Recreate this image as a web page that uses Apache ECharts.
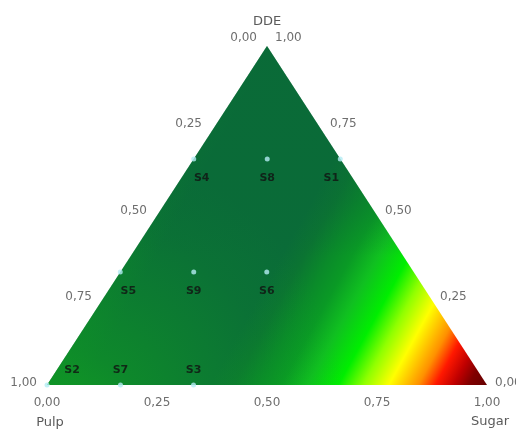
<!DOCTYPE html>
<html><head><meta charset="utf-8">
<script src="https://cdn.jsdelivr.net/npm/echarts@6/dist/echarts.min.js"></script>
<style>html,body{margin:0;padding:0;background:#fff}#c{width:516px;height:430px}</style>
</head><body><div id="c"></div>
<script>
// ---- data ----
const axisNames = ['Pulp', 'Sugar', 'DDE'];
const tickValues = [0, 0.25, 0.5, 0.75, 1];
const tickLabels = ['0,00', '0,25', '0,50', '0,75', '1,00'];
const pointNames = ['S4', 'S8', 'S1', 'S5', 'S9', 'S6', 'S2', 'S7', 'S3'];
const pulp  = [0.333, 0.167, 0,     0.667, 0.5,   0.333, 1, 0.833, 0.667];
const sugar = [0,     0.167, 0.333, 0,     0.167, 0.333, 0, 0.167, 0.333];
const dde   = [0.667, 0.667, 0.667, 0.333, 0.333, 0.333, 0, 0,     0];
const corners = [[1, 0, 0], [0, 1, 0], [0, 0, 1]]; // Pulp, Sugar, DDE vertices (Pulp, Sugar, DDE)

// ternary -> cartesian
function toXY(p, s, d) { return [s + d / 2, d]; }

const font = '"DejaVu Sans", sans-serif';

// response surface colour stops (style)
const baseStops = [
  [0, '#0a7434'], [0.086, '#0a6c38'], [0.371, '#0a6c38'], [0.423, '#0b7432'],
  [0.481, '#0a8a2a'], [0.532, '#0a9a25'], [0.592, '#10c020'], [0.662, '#00ee00'],
  [0.719, '#90ff00'], [0.777, '#ffff00'], [0.844, '#ff9000'], [0.883, '#ff1800'],
  [0.924, '#c00000'], [0.958, '#800000'], [1, '#650000']
].map(s => ({ offset: s[0], color: s[1] }));
const cornerGlow = [
  { offset: 0, color: 'rgba(18,165,30,0.85)' },
  { offset: 0.26, color: 'rgba(18,165,30,0.5)' },
  { offset: 0.52, color: 'rgba(18,165,30,0.28)' },
  { offset: 0.75, color: 'rgba(18,165,30,0.1)' },
  { offset: 1, color: 'rgba(18,165,30,0)' }
];
const topShade = [
  { offset: 0, color: 'rgba(10,105,55,0.45)' },
  { offset: 0.45, color: 'rgba(10,105,55,0.3)' },
  { offset: 0.62, color: 'rgba(10,105,55,0)' }
];

const chart = echarts.init(document.getElementById('c'), null, { renderer: 'canvas' });

// tick data: [x, y, axisIndex, tickIndex, ddeValue]
const tickData = [];
tickValues.forEach((v, i) => {
  const pPulp = toXY(v, 0, 1 - v);       // left edge
  tickData.push([pPulp[0], pPulp[1], 0, i, 1 - v]);
  const pSug = toXY(1 - v, v, 0);        // bottom edge
  tickData.push([pSug[0], pSug[1], 1, i, 0]);
  const pDde = toXY(0, 1 - v, v);        // right edge
  tickData.push([pDde[0], pDde[1], 2, i, v]);
});

const pointData = pointNames.map((n, i) => {
  let dx = 0, dy = 19;
  if (dde[i] === 0) dy = -15;
  if (sugar[i] === 0) dx = dde[i] === 0 ? 25 : 8;
  if (pulp[i] === 0) dx = -9;
  return { name: n, value: toXY(pulp[i], sugar[i], dde[i]), label: { offset: [dx, dy] } };
});

chart.setOption({
  animation: false,
  grid: { left: 47, right: 29, top: 46, bottom: 45 },
  xAxis: { type: 'value', min: 0, max: 1, show: false },
  yAxis: { type: 'value', min: 0, max: 1, show: false },
  series: [
    {
      type: 'custom', clip: false, silent: true, z: 1,
      data: [[0, 0]],
      renderItem: function (params, api) {
        const L = api.coord(toXY(...corners[0]));
        const R = api.coord(toXY(...corners[1]));
        const T = api.coord(toXY(...corners[2]));
        const pts = [L, R, T];
        const d = [0.876, 0.482];
        const len = (R[0] - L[0]) * d[0] + (R[1] - L[1]) * d[1];
        const w = R[0] - L[0];
        const base = new echarts.graphic.LinearGradient(L[0], L[1], L[0] + d[0] * len, L[1] + d[1] * len, baseStops, true);
        const glow = new echarts.graphic.RadialGradient(L[0] + w * 0.045, L[1] + w * 0.09, w * 0.64, cornerGlow, true);
        const shade = new echarts.graphic.LinearGradient(T[0], T[1], T[0], L[1], topShade, true);
        return {
          type: 'group',
          children: [
            { type: 'polygon', shape: { points: pts }, style: { fill: base } },
            { type: 'polygon', shape: { points: pts }, style: { fill: glow } },
            { type: 'polygon', shape: { points: pts }, style: { fill: shade } }
          ]
        };
      }
    },
    {
      type: 'custom', clip: false, silent: true, z: 3,
      data: tickData,
      renderItem: function (params, api) {
        const pt = api.coord([api.value(0), api.value(1)]);
        const ax = api.value(2), ti = api.value(3), dv = api.value(4);
        let x = pt[0], y = pt[1], align = 'center';
        if (ax === 0) { x -= 10; y += -2 - 6 * dv; align = 'right'; }
        else if (ax === 2) { x += 8; y += -2 - 6 * dv; align = 'left'; }
        else { y += 18; }
        return {
          type: 'text', x: x, y: y,
          style: { text: tickLabels[ti], fill: '#6e6e6e', font: '12px ' + font, align: align, verticalAlign: 'middle' }
        };
      }
    },
    {
      type: 'custom', clip: false, silent: true, z: 3,
      data: corners.map((c, i) => toXY(...c).concat([i])),
      renderItem: function (params, api) {
        const pt = api.coord([api.value(0), api.value(1)]);
        const i = api.value(2);
        const off = [[3, 38], [3, 37], [0, -24]][i];
        return {
          type: 'text', x: pt[0] + off[0], y: pt[1] + off[1],
          style: { text: axisNames[i], fill: '#5a5a5a', font: '13px ' + font, align: 'center', verticalAlign: 'middle' }
        };
      }
    },
    {
      type: 'scatter', z: 4, clip: false,
      symbol: 'circle', symbolSize: 5,
      itemStyle: { color: '#b4ecf4' },
      label: { show: true, position: 'inside', formatter: '{b}', color: '#111', fontSize: 11, fontWeight: 'bold', fontFamily: 'DejaVu Sans' },
      data: pointData
    }
  ]
});
</script>
</body></html>
